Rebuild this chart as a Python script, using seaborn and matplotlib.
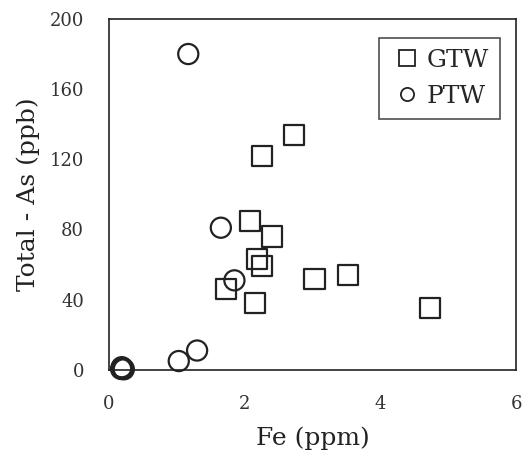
import matplotlib
matplotlib.use("Agg")
import matplotlib.pyplot as plt
from matplotlib.lines import Line2D
import pandas as pd
import seaborn as sns

# GTW samples (squares)
gtw_fe = [2.73, 2.26, 2.08, 2.40, 2.18, 2.26, 1.73, 2.15, 3.03, 3.53, 4.73]
gtw_as = [134, 122, 85, 76, 63, 59, 46, 38, 52, 54, 35]

# PTW samples (circles)
ptw_fe = [1.17, 1.65, 1.85, 1.30, 1.03, 0.18, 0.20, 0.22, 0.19, 0.21]
ptw_as = [180, 81, 51, 11, 5, 0.5, 1.0, 0.3, 1.5, 0.8]

df = pd.DataFrame({
    "Fe": gtw_fe + ptw_fe,
    "As": gtw_as + ptw_as,
    "group": ["GTW"] * len(gtw_fe) + ["PTW"] * len(ptw_fe),
})

sns.set_style("white")
plt.rcParams["font.family"] = ["DejaVu Serif"]

fig = plt.figure(figsize=(5.26, 4.51), dpi=100)
ax = fig.add_axes([0.207, 0.180, 0.774, 0.778])

for grp, mk, sz in [("GTW", "s", 210), ("PTW", "o", 210)]:
    sub = df[df["group"] == grp]
    sns.scatterplot(data=sub, x="Fe", y="As", marker=mk, s=sz,
                    facecolor="none", edgecolor="#222222", linewidth=1.6,
                    ax=ax, clip_on=False, legend=False)

ax.set_xlim(0, 6)
ax.set_ylim(0, 200)
ax.set_xticks([0, 2, 4, 6])
ax.set_yticks([0, 40, 80, 120, 160, 200])
ax.tick_params(axis="both", length=0, labelsize=13, colors="#333333")
ax.tick_params(axis="y", pad=18)
ax.tick_params(axis="x", pad=18)
ax.set_xlabel("Fe (ppm)", fontsize=18, color="#222222", labelpad=10)
ax.set_ylabel("Total - As (ppb)", fontsize=18, color="#222222", labelpad=7)
for sp in ax.spines.values():
    sp.set_color("#222222")
    sp.set_linewidth(1.2)

handles = [
    Line2D([], [], ls="none", marker="s", markersize=11, markerfacecolor="none",
           markeredgecolor="#222222", markeredgewidth=1.3),
    Line2D([], [], ls="none", marker="o", markersize=9.5, markerfacecolor="none",
           markeredgecolor="#222222", markeredgewidth=1.3),
]
leg = ax.legend(handles, ["GTW", "PTW"], loc="upper right",
                bbox_to_anchor=(0.961, 0.946), fontsize=18, frameon=True,
                fancybox=False, edgecolor="#222222", handletextpad=0.15,
                handlelength=1.3, borderpad=0.45, labelspacing=0.5,
                borderaxespad=0)
leg.get_frame().set_linewidth(1.2)

fig.savefig("out.png", dpi=100)
